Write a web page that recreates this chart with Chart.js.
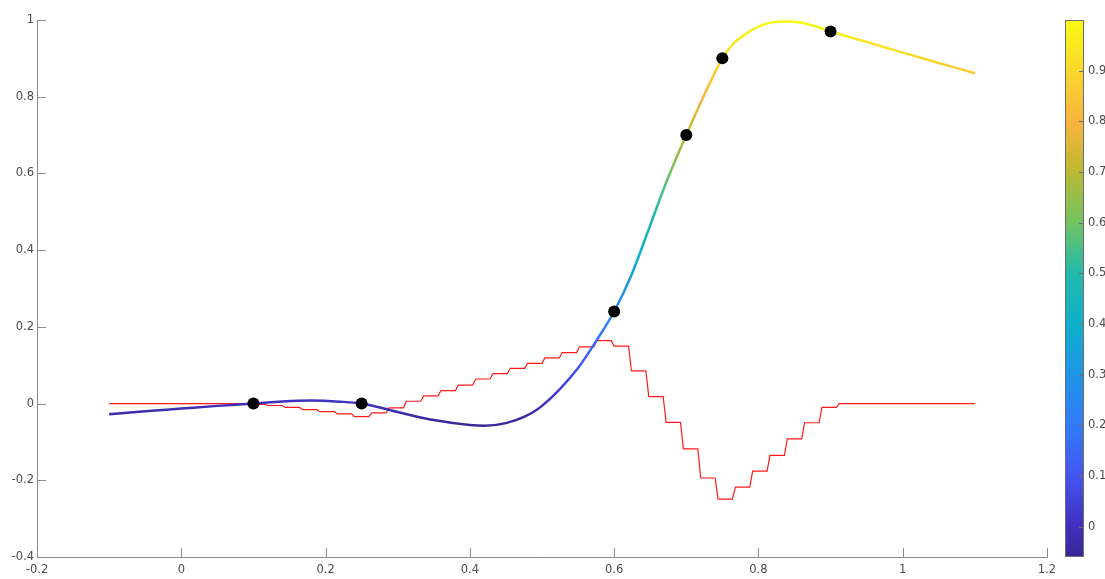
<!DOCTYPE html>
<html>
<head>
<meta charset="utf-8">
<script src="https://cdn.jsdelivr.net/npm/chart.js@4/dist/chart.umd.min.js"></script>
<style>
	html, body { margin: 0; padding: 0; background: #fff; }
	canvas { display: block; }
</style>
</head>
<body>
<canvas id="chart" width="1105" height="579"></canvas>
<script>
// axis ticks
const xTicks = [-0.2, 0, 0.2, 0.4, 0.6, 0.8, 1, 1.2];
const yTicks = [-0.4, -0.2, 0, 0.2, 0.4, 0.6, 0.8, 1];
const colorTicks = [0, 0.1, 0.2, 0.3, 0.4, 0.5, 0.6, 0.7, 0.8, 0.9];
const colorRange = [-0.06, 1.0];

// control points (black dots)
const knotX = [0.1, 0.25, 0.6, 0.7, 0.75, 0.9];
const knotY = [0, 0, 0.24, 0.7, 0.9, 0.97];

// smooth curve
const curveX = [-0.1, -0.05, 0, 0.05, 0.1, 0.14, 0.18, 0.22, 0.25, 0.3, 0.35, 0.4, 0.42, 0.45, 0.475, 0.5, 0.55, 0.575,
	0.6, 0.625, 0.65, 0.675, 0.7, 0.725, 0.75, 0.765, 0.79, 0.81, 0.835, 0.86, 0.88, 0.9, 0.95, 1.0, 1.05, 1.1];
const curveY = [-0.028, -0.02, -0.013, -0.006, 0, 0.0055, 0.008, 0.005, 0, -0.022, -0.043, -0.056, -0.058, -0.051, -0.035, -0.006, 0.093, 0.163,
	0.24, 0.34, 0.465, 0.59, 0.7, 0.805, 0.9, 0.938, 0.973, 0.99, 0.996, 0.993, 0.983, 0.97, 0.943, 0.915, 0.888, 0.861];

// red staircase: one level per step, steps start at -0.1
const stepStart = -0.1;
const stepWidth = 0.024;
const rampWidth = 0.004;
const stepLevels = [
	0, 0, 0, 0, 0, 0, 0, 0, -0.002, -0.005,
	-0.01, -0.016, -0.021, -0.027, -0.034, -0.024, -0.011, 0.006, 0.02, 0.034,
	0.048, 0.064, 0.078, 0.092, 0.105, 0.119, 0.133, 0.148, 0.164, 0.15,
	0.085, 0.018, -0.049, -0.118, -0.194, -0.249, -0.218, -0.176, -0.135, -0.092,
	-0.05, -0.01, 0, 0, 0, 0, 0, 0, 0, 0
];

// parula-like colour map stops
const parula = [
	[0.00, 55, 40, 150], [0.06, 64, 48, 190], [0.15, 68, 85, 240], [0.25, 48, 125, 245],
	[0.34, 32, 148, 230], [0.43, 15, 175, 205], [0.53, 35, 185, 170], [0.62, 110, 195, 100],
	[0.72, 190, 185, 50], [0.81, 248, 180, 62], [0.906, 250, 215, 45], [1.00, 249, 250, 20]
];

const axisColor = '#8c8c8c';
const textColor = '#4d4d4d';
const fontSpec = { family: '"DejaVu Sans", sans-serif', size: 11.5 };
const tickLen = 9;

const addStops = (g) => {
	parula.forEach(p => g.addColorStop(p[0], `rgb(${p[1]},${p[2]},${p[3]})`));
	return g;
};

const curvePoints = curveX.map((x, i) => ({ x: x, y: curveY[i] }));
const knotPoints = knotX.map((x, i) => ({ x: x, y: knotY[i] }));
const redPoints = [];
stepLevels.forEach((lv, k) => {
	const a = stepStart + k * stepWidth;
	redPoints.push({ x: k === 0 ? a : a + rampWidth, y: lv });
	redPoints.push({ x: a + stepWidth, y: lv });
});

const curveColor = (context) => {
	const chart = context.chart;
	if (!chart.chartArea) return '#4040c0';
	const y = chart.scales.y;
	const g = chart.ctx.createLinearGradient(0, y.getPixelForValue(colorRange[0]), 0, y.getPixelForValue(colorRange[1]));
	return addStops(g);
};

const decorations = {
	id: 'decorations',
	beforeDatasetsDraw(chart) {
		const { ctx, chartArea: a, scales: { x, y } } = chart;
		ctx.save();
		ctx.strokeStyle = axisColor;
		ctx.lineWidth = 1;
		ctx.beginPath();
		xTicks.forEach(v => {
			const px = Math.round(x.getPixelForValue(v)) + 0.5;
			ctx.moveTo(px, a.bottom);
			ctx.lineTo(px, a.bottom - tickLen);
		});
		yTicks.forEach(v => {
			const py = Math.round(y.getPixelForValue(v)) + 0.5;
			ctx.moveTo(a.left, py);
			ctx.lineTo(a.left + tickLen, py);
		});
		ctx.stroke();
		ctx.restore();
	},
	afterDraw(chart) {
		const { ctx, chartArea: a } = chart;
		const left = Math.round(a.right) + 18;
		const width = 19;
		const top = a.top, bottom = a.bottom;
		const toPx = v => bottom - (v - colorRange[0]) / (colorRange[1] - colorRange[0]) * (bottom - top);

		ctx.save();
		ctx.fillStyle = addStops(ctx.createLinearGradient(0, bottom, 0, top));
		ctx.fillRect(left, top, width, bottom - top);
		ctx.strokeStyle = '#6e6e6e';
		ctx.lineWidth = 1;
		ctx.strokeRect(left + 0.5, top + 0.5, width - 1, bottom - top - 1);

		ctx.beginPath();
		colorTicks.forEach(v => {
			const py = Math.round(toPx(v)) + 0.5;
			ctx.moveTo(left + width, py);
			ctx.lineTo(left + width - 5, py);
		});
		ctx.stroke();

		ctx.fillStyle = textColor;
		ctx.font = `${fontSpec.size}px ${fontSpec.family}`;
		ctx.textAlign = 'left';
		ctx.textBaseline = 'middle';
		colorTicks.forEach(v => ctx.fillText(String(v), left + width + 4, toPx(v)));
		ctx.restore();
	}
};

new Chart(document.getElementById('chart'), {
	type: 'scatter',
	data: {
		datasets: [
			{
				data: knotPoints,
				pointRadius: 6,
				pointHoverRadius: 6,
				backgroundColor: '#000',
				borderWidth: 0,
				showLine: false,
				order: 0
			},
			{
				data: curvePoints,
				showLine: true,
				pointRadius: 0,
				borderWidth: 2.5,
				borderColor: curveColor,
				cubicInterpolationMode: 'monotone',
				order: 1
			},
			{
				data: redPoints,
				showLine: true,
				pointRadius: 0,
				borderWidth: 1.2,
				borderColor: '#ff1a1a',
				tension: 0,
				order: 2
			}
		]
	},
	options: {
		responsive: false,
		animation: false,
		devicePixelRatio: 1,
		layout: { padding: { top: 20, right: 58, left: 0, bottom: 0 } },
		plugins: {
			legend: { display: false },
			tooltip: { enabled: false }
		},
		scales: {
			x: {
				type: 'linear',
				min: -0.2,
				max: 1.2,
				afterBuildTicks: s => { s.ticks = xTicks.map(v => ({ value: v })); },
				afterFit: s => { s.height = 22; },
				grid: { display: false, drawTicks: false },
				border: { display: true, color: axisColor, width: 1 },
				ticks: { color: textColor, font: fontSpec, padding: 6, maxRotation: 0, autoSkip: false, callback: v => String(v) }
			},
			y: {
				type: 'linear',
				min: -0.4,
				max: 1,
				afterBuildTicks: s => { s.ticks = yTicks.map(v => ({ value: v })); },
				afterFit: s => { s.width = 37; },
				grid: { display: false, drawTicks: false },
				border: { display: true, color: axisColor, width: 1 },
				ticks: { color: textColor, font: fontSpec, padding: 3, autoSkip: false, callback: v => String(v) }
			}
		}
	},
	plugins: [decorations]
});
</script>
</body>
</html>
